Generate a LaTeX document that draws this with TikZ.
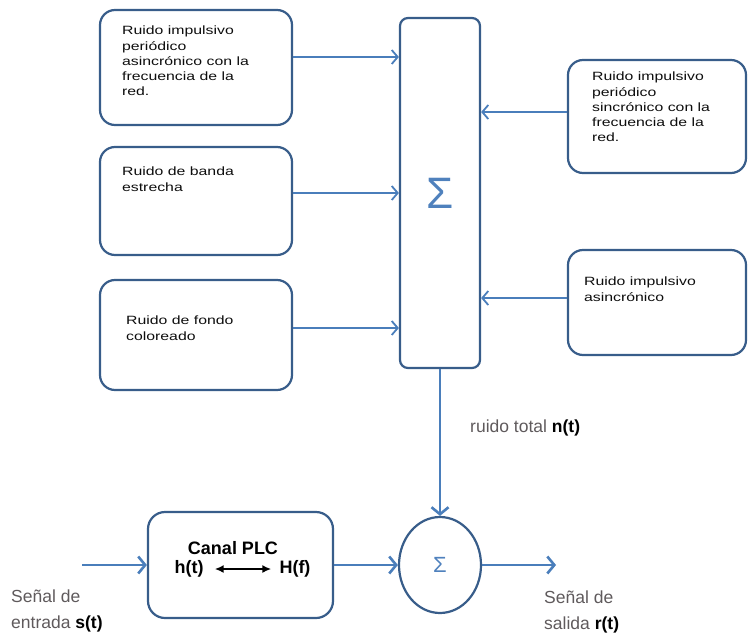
\documentclass[tikz,border=0pt]{standalone}
\usepackage{fontspec}
\setmainfont{Liberation Sans}
\newfontfamily\cajafont[FakeStretch=1.32]{Liberation Sans}
\definecolor{borde}{RGB}{56, 93, 138}
\definecolor{azulflecha}{RGB}{74, 126, 187}
\definecolor{azulsigma}{RGB}{79, 129, 189}
\definecolor{gristexto}{RGB}{95, 90, 92}
\usetikzlibrary{shapes, arrows.meta, positioning, calc}

\tikzset{
  caja/.style={draw=borde, line width=2.2pt, rounded corners=15pt, minimum width=192pt},
  textocaja/.style={font=\cajafont\fontsize{12}{15.3}\selectfont, text=black!95, align=left, inner sep=0pt, anchor=north west},
  etiqueta/.style={font=\fontsize{17.5}{26}\selectfont, text=gristexto, align=left, inner sep=0pt},
  canaltexto/.style={font=\bfseries\fontsize{18}{18}\selectfont, inner sep=1pt},
  flecha/.style={draw=azulflecha, line width=1.8pt, -{Straight Barb[length=6pt, width=14pt]}},
  flechagruesa/.style={draw=azulflecha, line width=2.6pt, -{Straight Barb[length=7pt, width=17pt]}}
}

\begin{document}
\begin{tikzpicture}[x=1pt, y=-1pt]
  \useasboundingbox (0,0) rectangle (749,642);

  % Fuentes de ruido (izquierda)
  \node[caja, minimum height=115pt] (perAsinc) at (196,67.5) {};
  \node[caja, minimum height=108pt] (banda) at (196,201) {};
  \node[caja, minimum height=110pt] (fondo) at (196,335) {};
  \node[textocaja, below right=17pt and 23pt of perAsinc.north west] (perAsincTxt)
    {Ruido impulsivo\\periódico\\asincrónico con la\\frecuencia de la\\red.};
  \node[textocaja, below right=21pt and 23pt of banda.north west] (bandaTxt)
    {Ruido de banda\\estrecha};
  \node[textocaja, below right=37pt and 27pt of fondo.north west] (fondoTxt)
    {Ruido de fondo\\coloreado};

  % Fuentes de ruido (derecha)
  \node[caja, minimum width=178pt, minimum height=113pt] (perSinc) at (657,116.5) {};
  \node[caja, minimum width=178pt, minimum height=105pt] (impAsinc) at (657,302.5) {};
  \node[textocaja, below right=13pt and 25pt of perSinc.north west] (perSincTxt)
    {Ruido impulsivo\\periódico\\sincrónico con la\\frecuencia de la\\red.};
  \node[textocaja, below right=28pt and 17pt of impAsinc.north west] (impAsincTxt)
    {Ruido impulsivo\\asincrónico};

  % Sumador de ruidos
  \node[caja, rounded corners=8pt, minimum width=80pt, minimum height=350pt,
        text=azulsigma, font=\fontsize{44}{44}\selectfont] (suma) at (440,193) {Σ};

  \draw[flecha] ($(perAsinc.east)+(0,-10.5)$) coordinate (e1) -- (e1 -| suma.west);
  \draw[flecha] ($(banda.east)+(0,-8)$) coordinate (e2) -- (e2 -| suma.west);
  \draw[flecha] ($(fondo.east)+(0,-7)$) coordinate (e3) -- (e3 -| suma.west);
  \draw[flecha] ($(perSinc.west)+(0,-4.5)$) coordinate (e4) -- (e4 -| suma.east);
  \draw[flecha] ($(impAsinc.west)+(0,-4.5)$) coordinate (e5) -- (e5 -| suma.east);

  % Canal PLC
  \node[caja, rounded corners=17pt, minimum width=185pt, minimum height=106pt] (canal) at (240.5,565) {};
  \node[canaltexto] (canalTit) at (233,548) {Canal PLC};
  \node[canaltexto] (hT) at (189,569) {h(t)};
  \node[canaltexto] (HF) at (295,569) {H(f)};
  \draw[{Latex[length=9pt, width=8pt]}-{Latex[length=9pt, width=8pt]}, line width=2pt,
        shorten <=10pt, shorten >=7pt] (hT) -- (HF);

  % Sumador final
  \node[draw=borde, line width=2.2pt, ellipse, minimum width=82pt, minimum height=96pt,
        text=azulsigma, font=\fontsize{22}{22}\selectfont] (sumador) at (440,565) {Σ};

  \coordinate (entrada) at (82,565);
  \coordinate (salida) at (556,565);
  \draw[flechagruesa] (entrada) -- (canal);
  \draw[flechagruesa] (canal) -- (sumador);
  \draw[flechagruesa] (sumador) -- (salida);
  \draw[flechagruesa] (suma) -- (sumador);

  % Etiquetas
  \node[etiqueta, anchor=west] (ruidoTotal) at (470,428) {ruido total \textbf{\textcolor{black}{n(t)}}};
  \node[etiqueta, anchor=north west] (senalEnt) at (11,590) {Señal de\\entrada \textbf{\textcolor{black}{s(t)}}};
  \node[etiqueta, anchor=north west] (senalSal) at (544,591) {Señal de\\salida \textbf{\textcolor{black}{r(t)}}};
\end{tikzpicture}
\end{document}
